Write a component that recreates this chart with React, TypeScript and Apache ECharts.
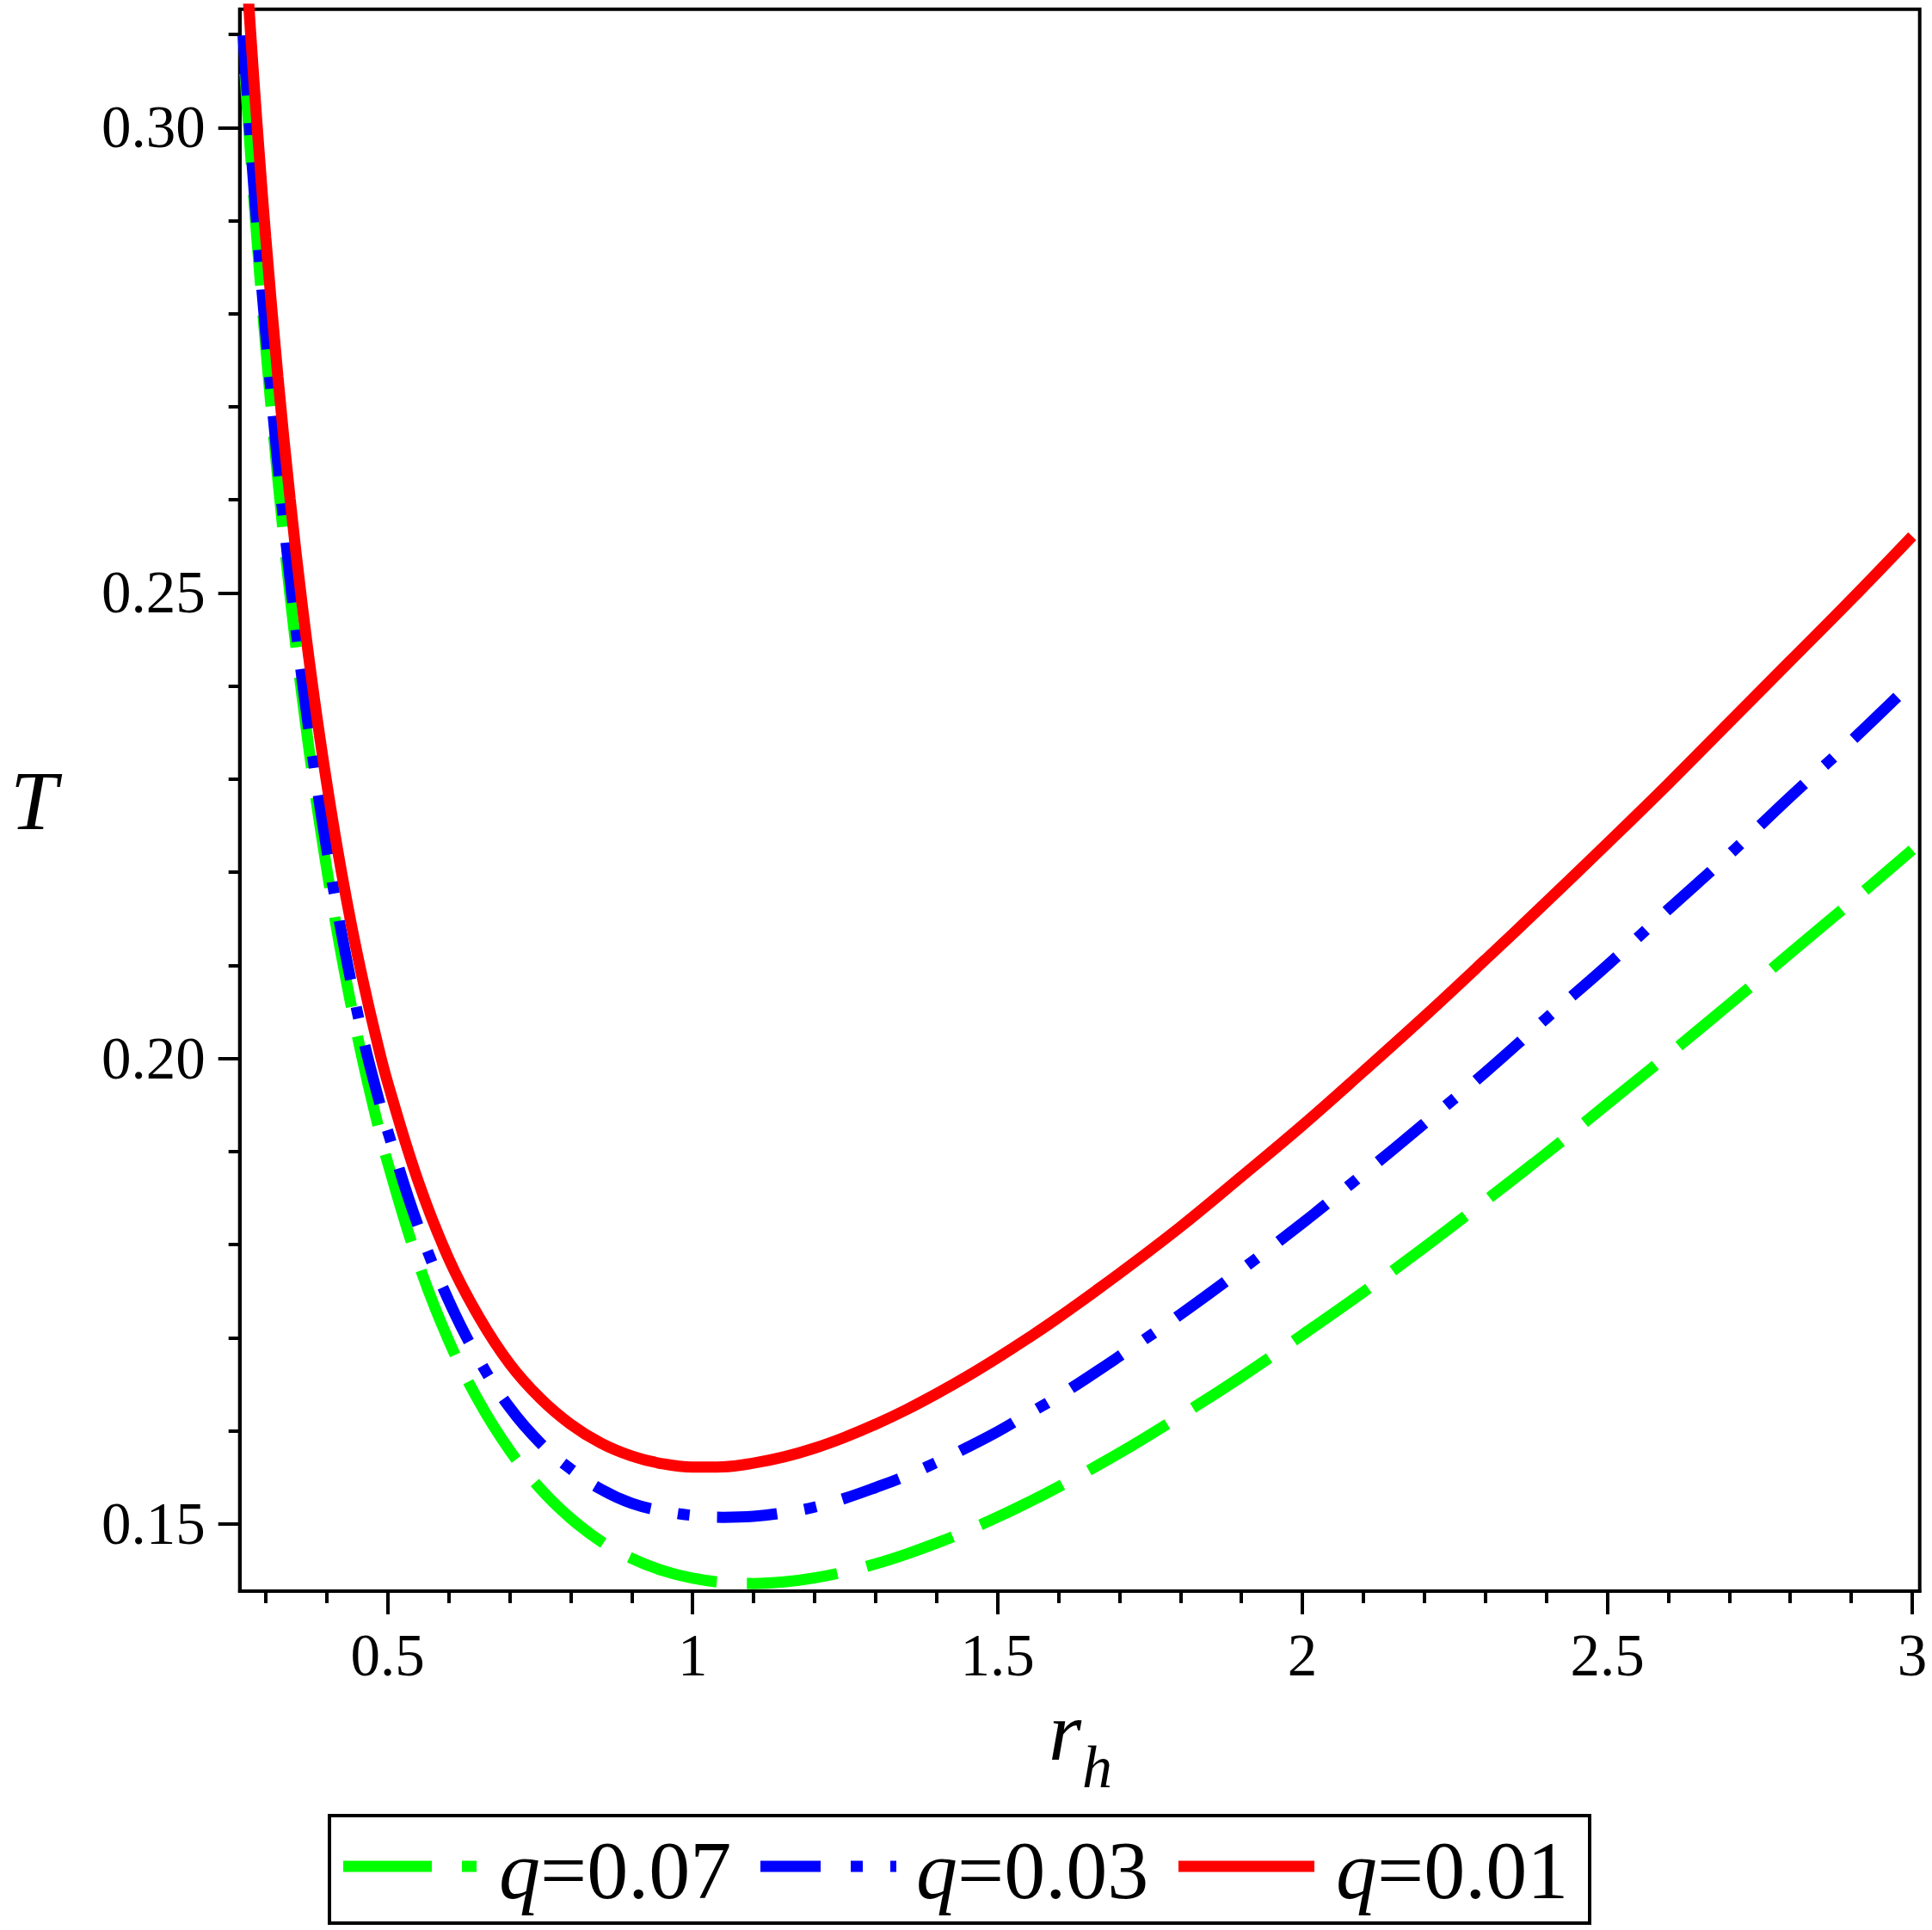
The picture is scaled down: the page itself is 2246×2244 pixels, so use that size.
import React, { useEffect, useRef } from 'react';
import * as echarts from 'echarts';

// Horizon radius samples (r_h)
const rHorizon = [
  0.263, 0.27, 0.28, 0.29, 0.3, 0.32, 0.34, 0.36, 0.38, 0.4, 0.42, 0.44, 0.46, 0.48, 0.5, 0.55, 0.6,
  0.65, 0.7, 0.75, 0.8, 0.85, 0.9, 0.95, 1.0, 1.05, 1.1, 1.15, 1.2, 1.25, 1.3, 1.35, 1.4, 1.45, 1.5,
  1.55, 1.6, 1.7, 1.8, 1.9, 2.0, 2.1, 2.2, 2.3, 2.4, 2.5, 2.6, 2.7, 2.8, 2.9, 3.0,
];
// Green curve starts slightly later
const greenFirstR = 0.266;

// Temperature T
const tQ001 = [
  0.3227, 0.3154, 0.3056, 0.2966, 0.2882, 0.2732, 0.2601, 0.2486, 0.2385, 0.2296, 0.2216, 0.2145,
  0.2082, 0.2025, 0.1974, 0.1868, 0.1785, 0.1722, 0.1672, 0.1635, 0.1607,
  0.15866, 0.15729, 0.15646, 0.1561, 0.15613, 0.15652, 0.15719, 0.15813, 0.15931, 0.16069, 0.16224,
  0.16397, 0.16583, 0.16783, 0.16994, 0.17216,
  0.1769, 0.1819, 0.1873, 0.1928, 0.1986, 0.2045, 0.2106, 0.2168, 0.2231, 0.2295, 0.2361, 0.2427,
  0.2493, 0.2561,
];
const tQ003 = [
  0.3099, 0.3032, 0.2941, 0.2857, 0.2779, 0.2638, 0.2515, 0.2406, 0.2311, 0.2225, 0.215, 0.2082,
  0.2021, 0.1969, 0.1922, 0.182, 0.174, 0.1676, 0.1625, 0.1587, 0.1559,
  0.1537, 0.1522, 0.1514, 0.1509, 0.1507, 0.1508, 0.1512, 0.1518, 0.15275, 0.1539, 0.15515, 0.1566,
  0.1582, 0.1599, 0.1618, 0.1637,
  0.168, 0.1725, 0.1773, 0.1823, 0.1876, 0.193, 0.1985, 0.2043, 0.21, 0.216, 0.2219, 0.2281, 0.2341,
  0.2404,
];
const tQ007 = [
  0.3058, 0.302, 0.2929, 0.2844, 0.2765, 0.2622, 0.2497, 0.2387, 0.229, 0.2204, 0.2126, 0.2057,
  0.1995, 0.1939, 0.1888, 0.1781, 0.1697, 0.1631, 0.1579, 0.1538, 0.1506,
  0.14811, 0.14629, 0.145, 0.14416, 0.14371, 0.14359, 0.14376, 0.14419, 0.14485, 0.1457, 0.14674,
  0.14793, 0.14926, 0.15072, 0.1523, 0.15398,
  0.1576, 0.1616, 0.1658, 0.1703, 0.1749, 0.1797, 0.1847, 0.1898, 0.1951, 0.2004, 0.2058, 0.2113,
  0.2168, 0.2224,
];

const qLabels = ['0.07', '0.03', '0.01'];

const xMajorTicks = [0.5, 1, 1.5, 2, 2.5, 3];
const xMinorTicks = [
  0.3, 0.4, 0.6, 0.7, 0.8, 0.9, 1.1, 1.2, 1.3, 1.4, 1.6, 1.7, 1.8, 1.9, 2.1, 2.2, 2.3, 2.4, 2.6,
  2.7, 2.8, 2.9,
];
const yMajorTicks = [0.15, 0.2, 0.25, 0.3];
const yMinorTicks = [
  0.16, 0.17, 0.18, 0.19, 0.21, 0.22, 0.23, 0.24, 0.26, 0.27, 0.28, 0.29, 0.31,
];

const X_MIN = 0.2574;
const X_MAX = 3.0123;
const Y_MIN = 0.14277;
const Y_MAX = 0.31271;

const FONT = "'Liberation Serif', 'Times New Roman', serif";

export default function App() {
  const ref = useRef<HTMLDivElement>(null);

  useEffect(() => {
    if (!ref.current) return;
    const chart = echarts.init(ref.current, undefined, { renderer: 'svg' });

    const redPairs = rHorizon.map((r, i) => [r, tQ001[i]]);
    const bluePairs = rHorizon.map((r, i) => [r, tQ003[i]]);
    const greenPairs = rHorizon.map((r, i) => [i === 0 ? greenFirstR : r, tQ007[i]]);

    const axisLineStyle = { color: '#000', width: 4 };
    const tickLine = { color: '#000', width: 4 };

    const legendY = 2170;
    const legendTextY = 2174;
    const legendItems = [
      { x1: 399, x2: 554, color: '#00ff00', dash: [103, 35], tx: 580, label: qLabels[0] },
      { x1: 884, x2: 1042, color: '#0000ff', dash: [70, 35, 14, 32], tx: 1065, label: qLabels[1] },
      { x1: 1370, x2: 1528, color: '#ff0000', dash: null, tx: 1553, label: qLabels[2] },
    ];

    const graphics: any[] = [
      {
        type: 'text',
        x: 12,
        y: 931,
        style: {
          text: 'T',
          font: `italic 98px ${FONT}`,
          fill: '#000',
          align: 'left',
          verticalAlign: 'middle',
        },
      },
      {
        type: 'text',
        x: 1219,
        y: 2013,
        style: {
          text: 'r',
          font: `italic 98px ${FONT}`,
          fill: '#000',
          align: 'left',
          verticalAlign: 'middle',
        },
      },
      {
        type: 'text',
        x: 1258,
        y: 2054,
        style: {
          text: 'h',
          font: `italic 70px ${FONT}`,
          fill: '#000',
          align: 'left',
          verticalAlign: 'middle',
        },
      },
      {
        type: 'rect',
        shape: { x: 383, y: 2111, width: 1465, height: 125 },
        style: { fill: '#fff', stroke: '#000', lineWidth: 4 },
      },
    ];

    legendItems.forEach((it) => {
      graphics.push({
        type: 'line',
        shape: { x1: it.x1, y1: legendY, x2: it.x2, y2: legendY },
        style: {
          stroke: it.color,
          lineWidth: 13,
          lineDash: it.dash || undefined,
          lineCap: 'butt',
        },
      });
      graphics.push({
        type: 'text',
        x: it.tx,
        y: legendTextY,
        style: {
          text: `{i|q}{n|=${it.label}}`,
          align: 'left',
          verticalAlign: 'middle',
          fill: '#000',
          rich: {
            i: { fontFamily: FONT, fontStyle: 'italic', fontSize: 96, fill: '#000' },
            n: { fontFamily: FONT, fontSize: 96, fill: '#000' },
          },
        },
      });
    });

    chart.setOption({
      animation: false,
      backgroundColor: '#fff',
      grid: {
        left: 278.7,
        top: 10.7,
        width: 1953,
        height: 1839.3,
        show: true,
        borderColor: '#000',
        borderWidth: 4,
        backgroundColor: 'transparent',
      },
      xAxis: [
        {
          type: 'value',
          min: X_MIN,
          max: X_MAX,
          position: 'bottom',
          axisLine: { show: true, onZero: false, lineStyle: axisLineStyle },
          axisTick: { show: true, customValues: xMajorTicks, length: 27, lineStyle: tickLine },
          axisLabel: {
            show: true,
            customValues: xMajorTicks,
            margin: 40,
            color: '#000',
            fontFamily: FONT,
            fontSize: 69,
            lineHeight: 69,
            formatter: (v: number) => String(v),
          },
          splitLine: { show: false },
          minorTick: { show: false },
        },
        {
          type: 'value',
          min: X_MIN,
          max: X_MAX,
          position: 'bottom',
          offset: 0,
          axisLine: { show: false, onZero: false },
          axisTick: { show: true, customValues: xMinorTicks, length: 14, lineStyle: tickLine },
          axisLabel: { show: false },
          splitLine: { show: false },
        },
      ],
      yAxis: [
        {
          type: 'value',
          min: Y_MIN,
          max: Y_MAX,
          position: 'left',
          axisLine: { show: true, onZero: false, lineStyle: axisLineStyle },
          axisTick: { show: true, customValues: yMajorTicks, length: 25, lineStyle: tickLine },
          axisLabel: {
            show: true,
            customValues: yMajorTicks,
            margin: 40,
            color: '#000',
            fontFamily: FONT,
            fontSize: 69,
            lineHeight: 69,
            formatter: (v: number) => v.toFixed(2),
          },
          splitLine: { show: false },
        },
        {
          type: 'value',
          min: Y_MIN,
          max: Y_MAX,
          position: 'left',
          offset: 0,
          axisLine: { show: false, onZero: false },
          axisTick: { show: true, customValues: yMinorTicks, length: 13, lineStyle: tickLine },
          axisLabel: { show: false },
          splitLine: { show: false },
        },
      ],
      series: [
        {
          name: 'q=0.07',
          type: 'line',
          xAxisIndex: 0,
          yAxisIndex: 0,
          data: greenPairs,
          symbol: 'none',
          showSymbol: false,
          smooth: 0.4,
          clip: true,
          lineStyle: { color: '#00ff00', width: 13, type: [106, 35], cap: 'butt' },
          z: 2,
        },
        {
          name: 'q=0.03',
          type: 'line',
          xAxisIndex: 0,
          yAxisIndex: 0,
          data: bluePairs,
          symbol: 'none',
          showSymbol: false,
          smooth: 0.4,
          clip: true,
          lineStyle: { color: '#0000ff', width: 13, type: [70, 32, 14, 32], cap: 'butt' },
          z: 3,
        },
        {
          name: 'q=0.01',
          type: 'line',
          xAxisIndex: 0,
          yAxisIndex: 0,
          data: redPairs,
          symbol: 'none',
          showSymbol: false,
          smooth: 0.4,
          clip: true,
          lineStyle: { color: '#ff0000', width: 13 },
          z: 4,
        },
      ],
      graphic: graphics,
    });

    return () => {
      chart.dispose();
    };
  }, []);

  return (
    <div
      ref={ref}
      style={{ position: 'absolute', left: 0, top: 0, width: 2246, height: 2244, background: '#fff' }}
    />
  );
}
